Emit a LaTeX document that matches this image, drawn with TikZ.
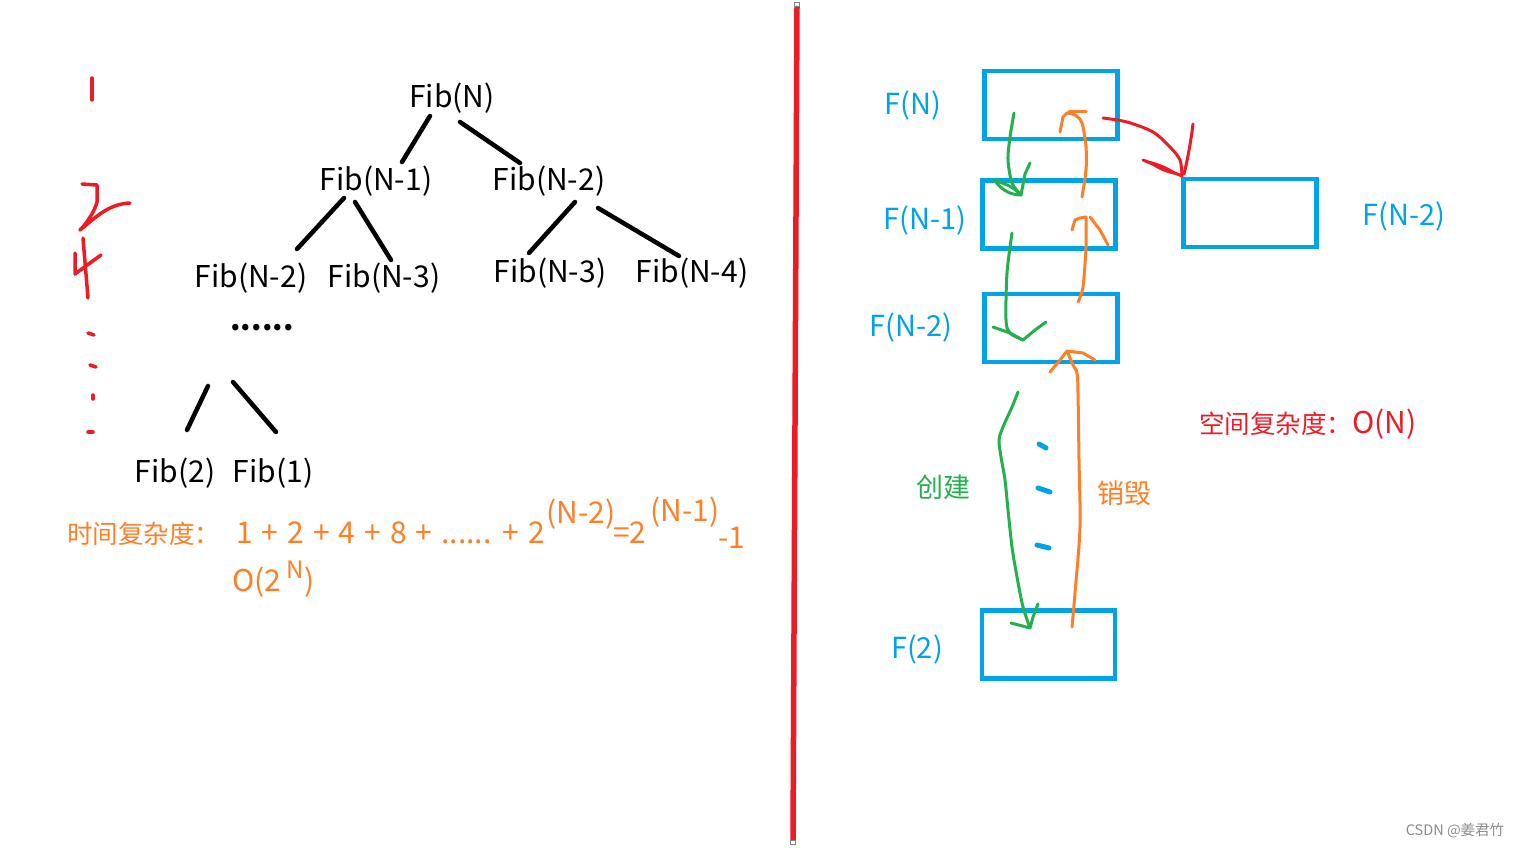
\documentclass[tikz,border=0pt]{standalone}
\usepackage{fontspec}
\setmainfont{Noto Sans CJK SC}
\usetikzlibrary{calc,positioning}

\definecolor{paintblue}{RGB}{0,162,232}
\definecolor{paintred}{RGB}{237,28,36}
\definecolor{paintorange}{RGB}{255,127,39}
\definecolor{paintgreen}{RGB}{34,177,76}

\newcommand{\widespace}{\spaceskip 9pt\relax}
\newcommand{\latinsize}{\fontsize{30}{36}\selectfont}

\tikzset{
  fib/.style={font=\fontsize{30}{36}\selectfont, inner sep=0pt},
  edge/.style={line width=4.5pt, line cap=round},
  flabel/.style={text=paintblue, font=\fontsize{29}{34}\selectfont, inner sep=0pt},
  frame/.style={draw=paintblue, line width=4.5pt, minimum width=133pt, minimum height=68pt, inner sep=0pt},
  pen/.style={line width=3pt, line cap=round, line join=round},
  formula/.style={text=paintorange, font=\latinsize\widespace, inner sep=0pt, anchor=base west}
}

\begin{document}
\begin{tikzpicture}[x=1pt,y=-1pt]

\fill[white] (0,0) rectangle (1520,848);
\useasboundingbox (0,0) rectangle (1520,848);

% recursion tree
\node (fibN) at (452,98) [fib] {Fib(N)};
\node (fibNa) at (376,181) [fib] {Fib(N-1)};
\node (fibNb) at (549,181) [fib] {Fib(N-2)};
\node (fibNaa) at (251,278) [fib] {Fib(N-2)};
\node (fibNab) at (384,278) [fib] {Fib(N-3)};
\node (fibNba) at (550,273) [fib] {Fib(N-3)};
\node (fibNbb) at (692,273) [fib] {Fib(N-4)};
\node (more) at (262,328) [fib] {\textbf{......}};
\node (fibTwo) at (175,473) [fib] {Fib(2)};
\node (fibOne) at (273,473) [fib] {Fib(1)};

\draw[edge] ($(fibN)+(-22,18)$) -- ($(fibNa)+(26,-19)$);
\draw[edge] ($(fibN)+(8,24)$) -- ($(fibNb)+(-29,-18)$);
\draw[edge] ($(fibNa)+(-32,17)$) -- ($(fibNaa)+(46,-29)$);
\draw[edge] ($(fibNa)+(-21,21)$) -- ($(fibNab)+(7,-18)$);
\draw[edge] ($(fibNb)+(26,21)$) -- ($(fibNba)+(-21,-20)$);
\draw[edge] ($(fibNb)+(49,27)$) -- ($(fibNbb)+(-13,-17)$);
\draw[edge] ($(more)+(-54,58)$) -- ($(fibTwo)+(12,-43)$);
\draw[edge] ($(more)+(-29,54)$) -- ($(fibOne)+(3,-41)$);

% time complexity
\node (tlabel) at (67,543) [formula, font=\fontsize{25.5}{30}\selectfont] {时间复杂度：};
\node (tsum) at (236,543) [formula] {1 + 2 + 4 + 8 + ...... + 2};
\node (texpA) at (546,523) [formula] {(N-2)};
\node (teq) at (613,543) [formula] {=2};
\node (texpB) at (650,521) [formula] {(N-1)};
\node (tminus) at (718,548) [formula] {-1};
\node (tbig) at (232,591) [formula] {O(2};
\node (tbigN) at (286,578) [formula, font=\fontsize{24}{28}\selectfont] {N};
\node (tbigR) at (304,591) [formula] {)};

% level marks on the left
\draw[pen, paintred, line width=3.5pt] (92,78) -- (92,100);
\draw[pen, paintred, line width=3.5pt] (82,184) -- (97,185) -- (97,202) .. controls (95,210) and (88,222) .. (80,230);
\draw[pen, paintred, line width=3.5pt] (80,230) .. controls (95,218) and (108,204) .. (130,203);
\draw[pen, paintred, line width=3.5pt] (83,238) -- (88,298);
\draw[pen, paintred, line width=3.5pt] (75,253) -- (75,274) -- (101,255);
\draw[pen, paintred, line width=3.5pt] (88,333) -- (94,335);
\draw[pen, paintred, line width=3.5pt] (90,365) -- (96,367);
\draw[pen, paintred, line width=3.5pt] (93,395) -- (93,399);
\draw[pen, paintred, line width=3.5pt] (88,432) -- (93,432);

% divider
\draw[paintred, line width=5.5pt] (797,6) -- (793,840);
\draw[gray, line width=0.8pt] (794.5,2) rectangle (799,6);
\draw[gray, line width=0.8pt] (790.5,840) rectangle (795,844.5);

% call stack
\node (boxN) at (1051,105) [frame] {};
\node (boxNa) at (1049,214.5) [frame] {};
\node (boxNb) at (1051,328) [frame] {};
\node (boxTwo) at (1048.5,644.5) [frame] {};
\node (boxR) at (1250,213) [frame] {};

\node (lblN) at (913,105) [flabel] {F(N)};
\node (lblNa) at (925,220) [flabel] {F(N-1)};
\node (lblNb) at (911,327) [flabel] {F(N-2)};
\node (lblTwo) at (917,649) [flabel] {F(2)};
\node (lblR) at (1404,216) [flabel] {F(N-2)};

% create (green)
\draw[pen, paintgreen] plot[smooth] coordinates {(1014,113) (1010,137) (1008,160) (1012,183) (1021,195)};
\draw[pen, paintgreen] (995,181) .. controls (1005,183) and (1015,188) .. (1021,195) -- (1025,174) -- (1030,163);
\draw[pen, paintgreen] (995,181) .. controls (1003,192) and (1013,195) .. (1021,195);
\draw[pen, paintgreen] plot[smooth] coordinates {(1012,233) (1007,273) (1006,320) (1010,333) (1023,340)};
\draw[pen, paintgreen] (993,327) -- (1010,333) -- (1023,340) -- (1035,330) -- (1046,322);
\draw[pen, paintgreen] plot[smooth] coordinates {(1018,392) (1012,407) (1003,427) (999,440) (1001,457) (1005,480) (1008,510) (1012,547) (1017,577) (1023,607) (1030,628)};
\draw[pen, paintgreen] (1011,623) -- (1030,628) -- (1033,617) -- (1038,604);

% destroy (orange)
\draw[pen, paintorange] plot[smooth] coordinates {(1072,627) (1075,593) (1080,527) (1079,460) (1078,393) (1077,373) (1073,365) (1067,351)};
\draw[pen, paintorange] (1050,372) -- (1060,360) -- (1067,351) -- (1083,353) -- (1095,360);
\draw[pen, paintorange] plot[smooth] coordinates {(1078,302) (1083,287) (1086,247) (1086,217)};
\draw[pen, paintorange] (1072,230) -- (1075,220) -- (1080,218) -- (1086,217);
\draw[pen, paintorange] (1108,245) -- (1100,230) -- (1090,217);
\draw[pen, paintorange] plot[smooth] coordinates {(1082,197) (1086,170) (1086,147) (1082,123) (1075,115) (1067,113)};
\draw[pen, paintorange] (1060,132) -- (1063,117) -- (1067,113);
\draw[pen, paintorange] (1069,112) -- (1086,112);

% call to the right frame (red)
\draw[pen, paintred] plot[smooth] coordinates {(1103,118) (1127,122) (1153,132) (1170,147) (1180,160) (1182,176)};
\draw[pen, paintred] (1143,160) -- (1160,167) -- (1182,176);
\fill[paintred] (1146,160) .. controls (1160,163) and (1170,168) .. (1182,176) .. controls (1168,174) and (1156,170) .. (1146,160);
\draw[pen, paintred] (1193,124) .. controls (1191,140) and (1188,158) .. (1184,174);

% stack dots
\draw[paintblue, line width=5pt, line cap=round] (1039,444) -- (1046,448);
\draw[paintblue, line width=5pt, line cap=round] (1038,488) -- (1050,492);
\draw[paintblue, line width=5pt, line cap=round] (1037,545) -- (1049,548);

\node (lblMake) at (943,487) [text=paintgreen, font=\fontsize{27}{32}\selectfont, inner sep=0pt] {创建};
\node (lblFree) at (1124,493) [text=paintorange, font=\fontsize{27}{32}\selectfont, inner sep=0pt] {销毁};
\node (space) at (1308,424) [text=paintred, font=\fontsize{25.5}{30}\selectfont, inner sep=0pt] {空间复杂度：{\latinsize O(N)}};

\node (mark) at (1455,831) [text=black!45, font=\fontsize{14.5}{17}\selectfont, inner sep=0pt] {CSDN @姜君竹};

\end{tikzpicture}
\end{document}
